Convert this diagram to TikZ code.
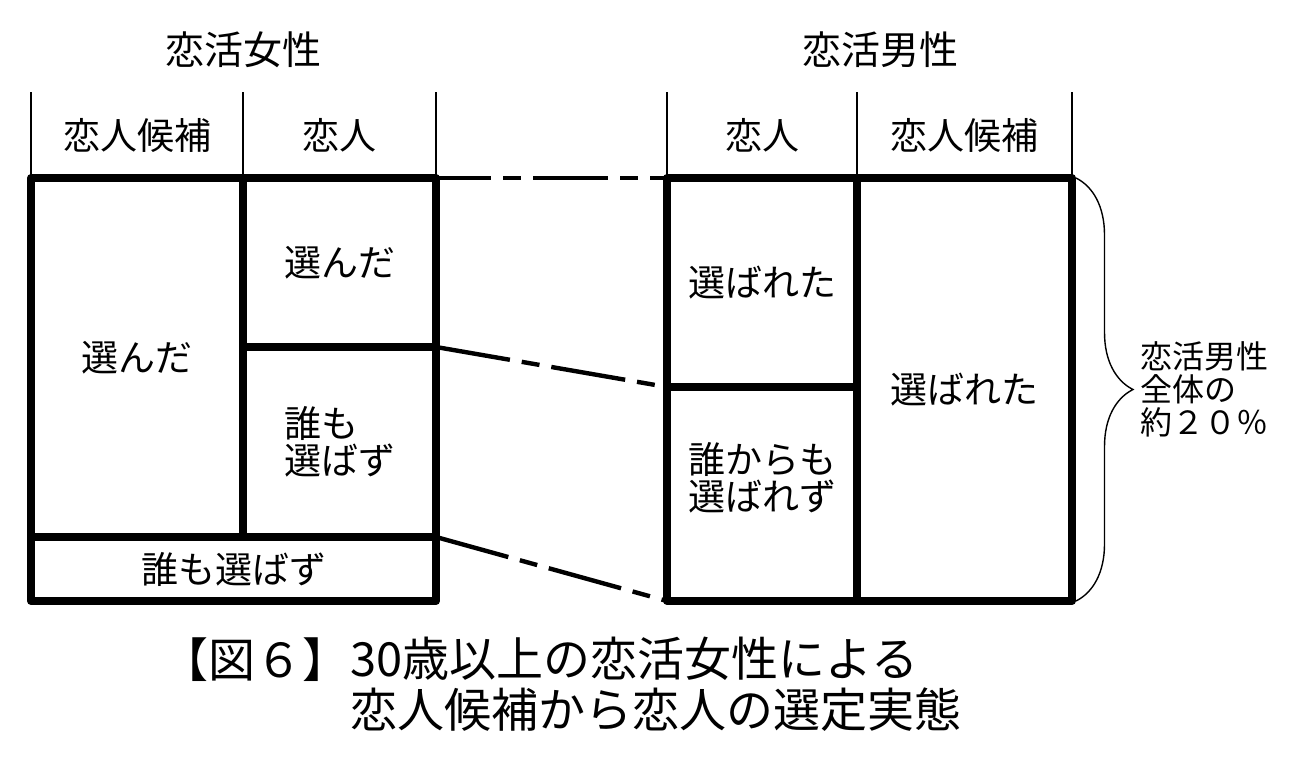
\documentclass[tikz,border=0pt]{standalone}
\usepackage{fontspec}
\setmainfont{Noto Sans CJK JP}
\usetikzlibrary{decorations.pathreplacing}

\begin{document}
\begin{tikzpicture}[x=0.5pt, y=-0.5pt,
    cell/.style={draw, line width=4pt, line join=round, inner sep=0pt, outer sep=0pt, align=center, font=\fontsize{18.5pt}{18.5pt}\selectfont},
    head/.style={inner sep=0pt, outer sep=0pt, minimum height=43pt, font=\fontsize{18.5pt}{18.5pt}\selectfont},
    headline/.style={line width=1.2pt},
    link/.style={line width=2.2pt, dash pattern=on 37.5pt off 6pt on 9pt off 6pt},
    caption/.style={inner sep=0pt, font=\fontsize{23.5pt}{25.5pt}\selectfont}
]
    \useasboundingbox (0,0) rectangle (1301,771);

    % Women side
    \node[font=\fontsize{19.5pt}{19.5pt}\selectfont] (wtitle) at (243,50) {恋活女性};
    \node[head, minimum width=106pt] (whcand) at (137,135) {恋人候補};
    \node[head, minimum width=96.5pt] (whsel) at (339.5,135) {恋人};

    \node[cell, minimum width=106pt, minimum height=179.5pt] (wcand) at (137,357.5) {選んだ};
    \node[cell, minimum width=96.5pt, minimum height=84.5pt] (wsel) at (339.5,262.5) {選んだ};
    \node[cell, minimum width=96.5pt, minimum height=95pt, align=left] (wnone) at (339.5,442) {誰も\\選ばず};
    \node[cell, minimum width=202.5pt, minimum height=32pt] (wbot) at (233.5,569) {誰も選ばず};

    \draw[headline] (whcand.north west) -- (whcand.south west);
    \draw[headline] (whsel.north west) -- (whsel.south west);
    \draw[headline] (whsel.north east) -- (whsel.south east);

    % Men side
    \node[font=\fontsize{19.5pt}{19.5pt}\selectfont] (mtitle) at (880,50) {恋活男性};
    \node[head, minimum width=95pt] (mhsel) at (762,135) {恋人};
    \node[head, minimum width=107.5pt] (mhcand) at (964.5,135) {恋人候補};

    \node[cell, minimum width=95pt, minimum height=104.5pt] (msel) at (762,282.5) {選ばれた};
    \node[cell, minimum width=95pt, minimum height=107pt] (mnone) at (762,494) {};
    \node[cell, draw=none] (mnonetxt) at (762,478) {誰からも\\選ばれず};
    \node[cell, minimum width=107.5pt, minimum height=211.5pt] (mcand) at (964.5,389.5) {選ばれた};

    \draw[headline] (mhsel.north west) -- (mhsel.south west);
    \draw[headline] (mhcand.north west) -- (mhcand.south west);
    \draw[headline] (mhcand.north east) -- (mhcand.south east);

    % Links
    \draw[link, dash phase=10pt] (wsel.north east) -- (msel.north west);
    \draw[link] (wsel.south east) -- (msel.south west);
    \draw[link] (wbot.north east) -- (mnone.south west);

    % Brace
    \coordinate (btop) at ([xshift=2pt]mcand.north east);
    \coordinate (bbot) at ([xshift=2pt]mcand.south east);
    \draw[line width=0.7pt, decorate, decoration={brace, amplitude=28.5pt}] (btop) -- (bbot);
    \node[anchor=west, align=left, inner sep=0pt, font=\fontsize{16pt}{16.5pt}\selectfont] (share) at ([xshift=34pt]mcand.east) {恋活男性\\全体の\\約２０％};

    % Caption
    \node[caption, anchor=north west, align=left] (capt) at (350,637) {30歳以上の恋活女性による\\恋人候補から恋人の選定実態};
    \node[caption, anchor=north east] (capfig) at (capt.north west) {【図６】};
\end{tikzpicture}
\end{document}
